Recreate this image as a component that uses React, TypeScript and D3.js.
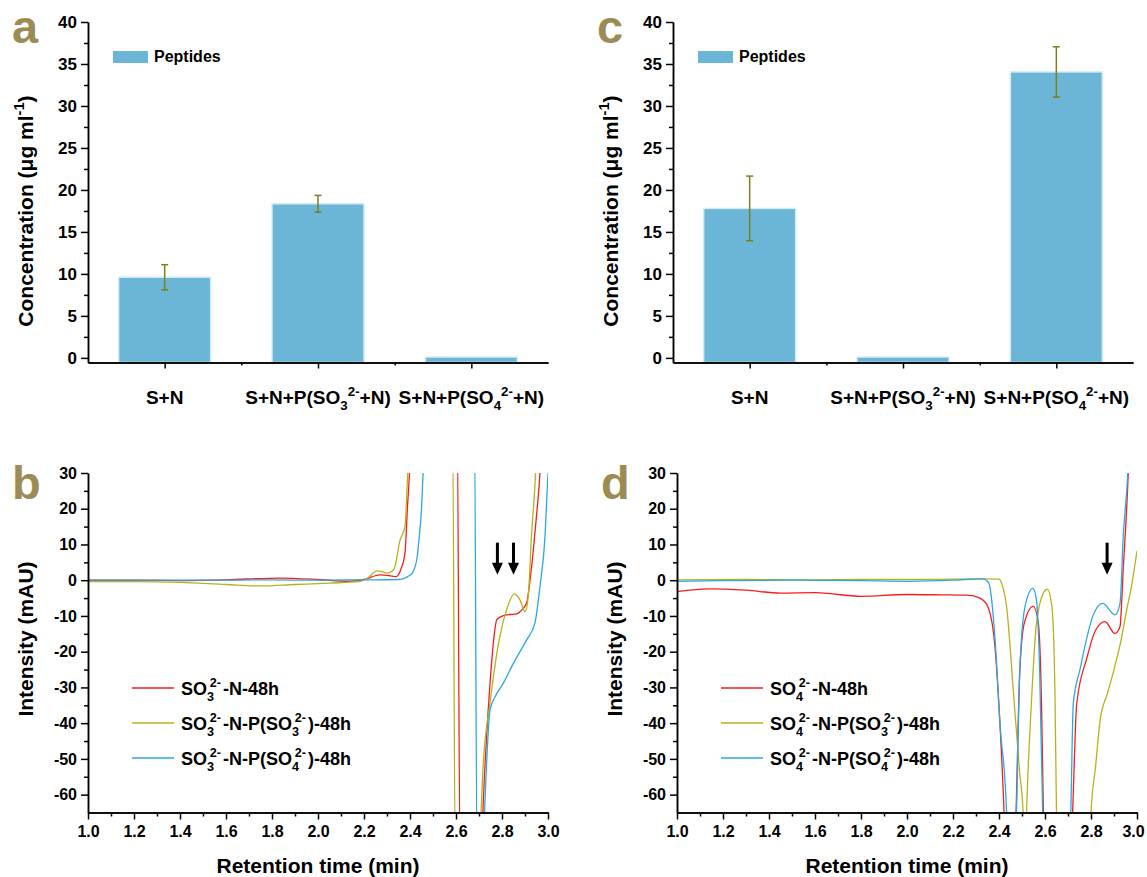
import React, { useEffect, useRef } from 'react';
import * as d3 from 'd3';

const FONT = "'Liberation Sans', Arial, Helvetica, sans-serif";
const LETTER_COLOR = '#9b8b55';
const BAR_FILL = '#6bb6d7';
const BAR_EDGE = '#d4eaf3';
const ERR_COLOR = '#7f7d1c';

// ---- bar panels (a, c)
const barCategories = ['S+N', 'S+N+P(SO_{3}^{2-}+N)', 'S+N+P(SO_{4}^{2-}+N)'];
const barTicks = [0, 5, 10, 15, 20, 25, 30, 35, 40];
const barMinorTicks = [2.5, 7.5, 12.5, 17.5, 22.5, 27.5, 32.5, 37.5];
const peptidesA = [9.6, 18.35, 0.1];
const peptidesErrA = [1.5, 1.0, 0];
const peptidesC = [17.8, 0.1, 34.05];
const peptidesErrC = [3.85, 0, 3.0];

// ---- chromatograms (b, d)
const timeTicks = [1.0, 1.2, 1.4, 1.6, 1.8, 2.0, 2.2, 2.4, 2.6, 2.8, 3.0];
const timeMinorTicks = [1.1, 1.3, 1.5, 1.7, 1.9, 2.1, 2.3, 2.5, 2.7, 2.9];
const intensityTicks = [-60, -50, -40, -30, -20, -10, 0, 10, 20, 30];
const intensityMinorTicks = [-55, -45, -35, -25, -15, -5, 5, 15, 25];
const seriesColors = ['#f81d1d', '#b7b21c', '#2aa9e0'];
const seriesNamesB = ['SO_{3}^{2-}-N-48h', 'SO_{3}^{2-}-N-P(SO_{3}^{2-})-48h', 'SO_{3}^{2-}-N-P(SO_{4}^{2-})-48h'];
const seriesNamesD = ['SO_{4}^{2-}-N-48h', 'SO_{4}^{2-}-N-P(SO_{3}^{2-})-48h', 'SO_{4}^{2-}-N-P(SO_{4}^{2-})-48h'];

const redB: [number, number][] = [
  [1.0, 0.0], [1.2, 0.0], [1.4, -0.1], [1.6, 0.1], [1.83, 0.6], [2.0, 0.2], [2.13, -0.3], [2.2, 0.2],
  [2.27, 1.5], [2.31, 1.3], [2.34, 1.0], [2.36, 3.0], [2.378, 7.6], [2.39, 21.6], [2.4, 32], [2.41, 45],
  [2.605, 45], [2.618, -80], [2.71, -80], [2.717, -65], [2.733, -43.8], [2.748, -28.8], [2.765, -16],
  [2.777, -11.1], [2.806, -9.9], [2.835, -9.6], [2.864, -9.4], [2.89, -8], [2.907, -6.4], [2.92, -1],
  [2.935, 7.6], [2.95, 18], [2.965, 30], [2.975, 45]
];
const oliveB: [number, number][] = [
  [1.0, -0.4], [1.2, -0.4], [1.4, -0.6], [1.6, -1.2], [1.75, -1.6], [1.9, -1.2], [2.05, -0.8], [2.18, -0.4],
  [2.22, 0.8], [2.255, 2.6], [2.28, 2.4], [2.3, 2.0], [2.33, 3.0], [2.357, 11.3], [2.378, 15], [2.39, 30],
  [2.4, 45], [2.585, 45], [2.597, -80], [2.70, -80], [2.709, -65], [2.717, -53], [2.748, -34.4],
  [2.79, -15.9], [2.82, -8.3], [2.853, -3.8], [2.878, -5.5], [2.9, -8.8], [2.914, -4.6], [2.928, 12.2],
  [2.946, 30], [2.955, 45]
];
const blueB: [number, number][] = [
  [1.0, 0.0], [1.5, 0.0], [1.8, 0.1], [2.0, 0.0], [2.2, 0.1], [2.35, 0.2], [2.37, 0.4], [2.39, 1.0],
  [2.41, 2.0], [2.43, 6], [2.44, 12], [2.45, 20], [2.457, 30], [2.465, 45], [2.68, 45], [2.692, -80],
  [2.716, -80], [2.726, -62], [2.738, -45], [2.748, -36.3], [2.77, -32.6], [2.806, -28.8], [2.85, -23.2],
  [2.907, -16.7], [2.943, -12], [2.965, -1.8], [2.987, 12.2], [3.0, 30]
];

const redD: [number, number][] = [
  [1.0, -3.2], [1.14, -2.4], [1.3, -2.8], [1.45, -3.6], [1.6, -3.5], [1.8, -4.5], [2.0, -4.0], [2.15, -4.1],
  [2.26, -4.2], [2.317, -5.0], [2.35, -7.2], [2.38, -17], [2.404, -40], [2.422, -65], [2.43, -80],
  [2.466, -80], [2.474, -65], [2.49, -26], [2.51, -12], [2.549, -7.3], [2.571, -12], [2.585, -35],
  [2.593, -65], [2.6, -80], [2.71, -80], [2.72, -65], [2.738, -34.5], [2.781, -22], [2.82, -14],
  [2.861, -11.6], [2.904, -14.9], [2.926, -13], [2.94, 2.9], [2.962, 30], [2.97, 45]
];
const oliveD: [number, number][] = [
  [1.0, 0.1], [1.3, 0.2], [1.6, 0.1], [1.8, 0.2], [2.0, 0.2], [2.2, 0.3], [2.35, 0.4], [2.4, 0.3],
  [2.415, -1.5], [2.433, -7.4], [2.462, -30.7], [2.49, -54], [2.505, -65], [2.512, -80], [2.514, -80],
  [2.52, -65], [2.54, -35.4], [2.563, -12], [2.593, -3.6], [2.61, -2.5], [2.63, -7.4], [2.643, -30.7],
  [2.65, -65], [2.655, -80], [2.79, -80], [2.8, -65], [2.82, -52], [2.84, -39], [2.87, -32], [2.9, -25],
  [2.93, -17], [2.955, -8.4], [2.975, -2], [3.0, 8.2]
];
const blueD: [number, number][] = [
  [1.0, -0.3], [1.2, -0.1], [1.5, 0.0], [1.8, -0.1], [2.0, -0.3], [2.2, 0.0], [2.33, 0.4], [2.35, -0.3],
  [2.36, -1.8], [2.383, -16.7], [2.404, -40], [2.433, -65], [2.44, -80], [2.468, -80], [2.476, -65],
  [2.49, -26], [2.513, -7.4], [2.547, -2.3], [2.563, -5.5], [2.577, -26], [2.59, -65], [2.6, -80],
  [2.70, -80], [2.712, -65], [2.723, -34.5], [2.752, -25], [2.81, -9.7], [2.851, -6.5], [2.904, -9.7],
  [2.926, -6.6], [2.94, 12], [2.96, 30], [2.97, 45]
];

const arrowsB = [2.78, 2.85];
const arrowsD = [2.87];
const arrowSpan = [10.5, 1.5];

function richText(text: any, str: string, size: number, stacked: boolean) {
  const parts = str.split(/(_\{[^}]*\}|\^\{[^}]*\})/).filter(s => s !== '');
  const small = size * 0.7;
  let cur = 0;
  let lastSub = 0;
  parts.forEach(p => {
    let off = 0, fs = size, content = p, dx = 0;
    if (p[0] === '_') { off = size * 0.32; fs = small; content = p.slice(2, -1); }
    else if (p[0] === '^') {
      off = -size * 0.42; fs = small; content = p.slice(2, -1);
      if (stacked && lastSub) dx = -lastSub * 0.6;
    }
    const ts = text.append('tspan').attr('font-size', fs).attr('dy', off - cur).text(content);
    if (dx) ts.attr('dx', dx);
    else if (stacked && cur !== 0 && off === 0) ts.attr('dx', 2);
    cur = off;
    lastSub = p[0] === '_' ? ts.node().getComputedTextLength() : 0;
  });
}

function styleAxis(g: any, size: number) {
  g.select('.domain').attr('stroke', '#000').attr('stroke-width', 1.5);
  g.selectAll('.tick line').attr('stroke', '#000').attr('stroke-width', 1.5);
  g.selectAll('.tick text')
    .attr('font-family', FONT).attr('font-weight', 'bold').attr('font-size', size).attr('fill', '#000');
}

function drawLetter(svg: any, x: number, y: number, letter: string) {
  svg.append('text')
    .attr('x', x).attr('y', y)
    .attr('font-family', FONT).attr('font-weight', 'bold').attr('font-size', 47)
    .attr('fill', LETTER_COLOR)
    .text(letter);
}

function drawBarPanel(svg: any, x0: number, values: number[], errors: number[], letter: string) {
  const x = d3.scaleLinear().domain([0.5, 3.5]).range([x0, x0 + 460]);
  const y = d3.scaleLinear().domain([-0.55, 40]).range([362.5, 22]);
  const bw = x(1.3) - x(0.7);

  svg.append('g').selectAll('rect')
    .data(values)
    .enter()
    .append('rect')
    .attr('x', (d: number, i: number) => x(i + 1) - bw / 2)
    .attr('y', (d: number) => y(d))
    .attr('width', bw)
    .attr('height', (d: number) => y(-0.55) - y(d))
    .attr('fill', BAR_FILL)
    .attr('stroke', BAR_EDGE)
    .attr('stroke-width', 1.5);

  const eg = svg.append('g').attr('stroke', ERR_COLOR).attr('stroke-width', 1.5);
  values.forEach((v, i) => {
    if (!errors[i]) return;
    const cx = x(i + 1);
    eg.append('line').attr('x1', cx).attr('x2', cx).attr('y1', y(v - errors[i])).attr('y2', y(v + errors[i]));
    [v - errors[i], v + errors[i]].forEach(e => {
      eg.append('line').attr('x1', cx - 3.5).attr('x2', cx + 3.5).attr('y1', y(e)).attr('y2', y(e));
    });
  });

  const yAxis = svg.append('g').attr('transform', `translate(${x0},0)`)
    .call(d3.axisLeft(y).tickValues(barTicks).tickSize(7).tickSizeOuter(0).tickPadding(4).tickFormat((d: any) => String(d)));
  styleAxis(yAxis, 17);
  const yMinor = svg.append('g').attr('transform', `translate(${x0},0)`)
    .call(d3.axisLeft(y).tickValues(barMinorTicks).tickSize(4).tickSizeOuter(0).tickFormat(() => ''));
  styleAxis(yMinor, 17);

  const xAxis = svg.append('g').attr('transform', `translate(0,${y(-0.55)})`)
    .call(d3.axisBottom(x).tickValues([1, 2, 3]).tickSize(6).tickSizeOuter(0).tickFormat(() => ''));
  styleAxis(xAxis, 16);
  const xMinor = svg.append('g').attr('transform', `translate(0,${y(-0.55)})`)
    .call(d3.axisBottom(x).tickValues([1.5, 2.5]).tickSize(3).tickSizeOuter(0).tickFormat(() => ''));
  styleAxis(xMinor, 16);

  barCategories.forEach((c, i) => {
    const t = svg.append('text')
      .attr('x', x(i + 1)).attr('y', 404)
      .attr('text-anchor', 'middle')
      .attr('font-family', FONT).attr('font-weight', 'bold').attr('font-size', 19);
    richText(t, c, 19, false);
  });

  const t = svg.append('text')
    .attr('transform', `translate(${x0 - 55},${211}) rotate(-90)`)
    .attr('text-anchor', 'middle')
    .attr('font-family', FONT).attr('font-weight', 'bold').attr('font-size', 21);
  richText(t, 'Concentration (\u03bcg ml^{-1})', 21, false);

  svg.append('rect').attr('x', x0 + 25).attr('y', 51).attr('width', 35).attr('height', 12).attr('fill', BAR_FILL);
  svg.append('text').attr('x', x0 + 66).attr('y', 62)
    .attr('font-family', FONT).attr('font-weight', 'bold').attr('font-size', 16).text('Peptides');

  drawLetter(svg, x0 - 76, 43, letter);
}

function drawLinePanel(svg: any, x0: number, series: [number, number][][], names: string[], arrows: number[], letter: string, id: string) {
  const x = d3.scaleLinear().domain([1, 3]).range([x0, x0 + 460]);
  const y = d3.scaleLinear().domain([-65, 30]).range([812.5, 473]);

  svg.append('clipPath').attr('id', id)
    .append('rect').attr('x', x0).attr('y', y(30)).attr('width', 460).attr('height', y(-65) - y(30));

  const line = d3.line<[number, number]>()
    .x(d => x(d[0]))
    .y(d => y(d[1]))
    .curve(d3.curveMonotoneX);

  const lg = svg.append('g').attr('clip-path', `url(#${id})`);
  series.forEach((s, i) => {
    lg.append('path')
      .attr('d', line(s))
      .attr('fill', 'none')
      .attr('stroke', seriesColors[i])
      .attr('stroke-width', 1.3);
  });

  arrows.forEach(a => {
    const ax = x(a);
    const top = y(arrowSpan[0]);
    const tip = y(arrowSpan[1]);
    svg.append('line').attr('x1', ax).attr('x2', ax).attr('y1', top).attr('y2', tip - 10)
      .attr('stroke', '#000').attr('stroke-width', 3);
    svg.append('path')
      .attr('d', `M${ax - 5.5},${tip - 12}L${ax + 5.5},${tip - 12}L${ax},${tip}Z`)
      .attr('fill', '#000');
  });

  const yAxis = svg.append('g').attr('transform', `translate(${x0},0)`)
    .call(d3.axisLeft(y).tickValues(intensityTicks).tickSize(7).tickSizeOuter(0).tickPadding(4).tickFormat((d: any) => String(d)));
  styleAxis(yAxis, 16);
  const yMinor = svg.append('g').attr('transform', `translate(${x0},0)`)
    .call(d3.axisLeft(y).tickValues(intensityMinorTicks).tickSize(4).tickSizeOuter(0).tickFormat(() => ''));
  styleAxis(yMinor, 16);

  const xAxis = svg.append('g').attr('transform', `translate(0,${y(-65)})`)
    .call(d3.axisBottom(x).tickValues(timeTicks).tickSize(7).tickSizeOuter(0).tickPadding(6).tickFormat(d3.format('.1f') as any));
  styleAxis(xAxis, 16);
  // keep the last label inside the page
  xAxis.selectAll('.tick text').filter((d: any) => d === 3).attr('dx', x0 + 460 > 1130 ? -4 : 0);
  const xMinor = svg.append('g').attr('transform', `translate(0,${y(-65)})`)
    .call(d3.axisBottom(x).tickValues(timeMinorTicks).tickSize(4).tickSizeOuter(0).tickFormat(() => ''));
  styleAxis(xMinor, 16);

  svg.append('text')
    .attr('x', x(2)).attr('y', 873)
    .attr('text-anchor', 'middle')
    .attr('font-family', FONT).attr('font-weight', 'bold').attr('font-size', 21)
    .text('Retention time (min)');

  svg.append('text')
    .attr('transform', `translate(${x0 - 55},${639}) rotate(-90)`)
    .attr('text-anchor', 'middle')
    .attr('font-family', FONT).attr('font-weight', 'bold').attr('font-size', 21)
    .text('Intensity (mAU)');

  names.forEach((n, i) => {
    const ly = 688 + i * 35;
    svg.append('line').attr('x1', x0 + 44).attr('x2', x0 + 86).attr('y1', ly).attr('y2', ly)
      .attr('stroke', seriesColors[i]).attr('stroke-width', 1.5);
    const t = svg.append('text')
      .attr('x', x0 + 93).attr('y', ly + 7)
      .attr('font-family', FONT).attr('font-weight', 'bold').attr('font-size', 18);
    richText(t, n, 18, true);
  });

  drawLetter(svg, x0 - 76, 499, letter);
}

export default function App() {
  const ref = useRef<SVGSVGElement>(null);

  useEffect(() => {
    const svg = d3.select(ref.current);
    svg.selectAll('*').remove();
    drawBarPanel(svg, 88, peptidesA, peptidesErrA, 'a');
    drawBarPanel(svg, 673, peptidesC, peptidesErrC, 'c');
    drawLinePanel(svg, 88, [redB, oliveB, blueB], seriesNamesB, arrowsB, 'b', 'clipB');
    drawLinePanel(svg, 677, [redD, oliveD, blueD], seriesNamesD, arrowsD, 'd', 'clipD');
  }, []);

  return (
    <svg
      ref={ref}
      width={1147}
      height={877}
      style={{ position: 'absolute', left: 0, top: 0, background: '#fff' }}
    />
  );
}
